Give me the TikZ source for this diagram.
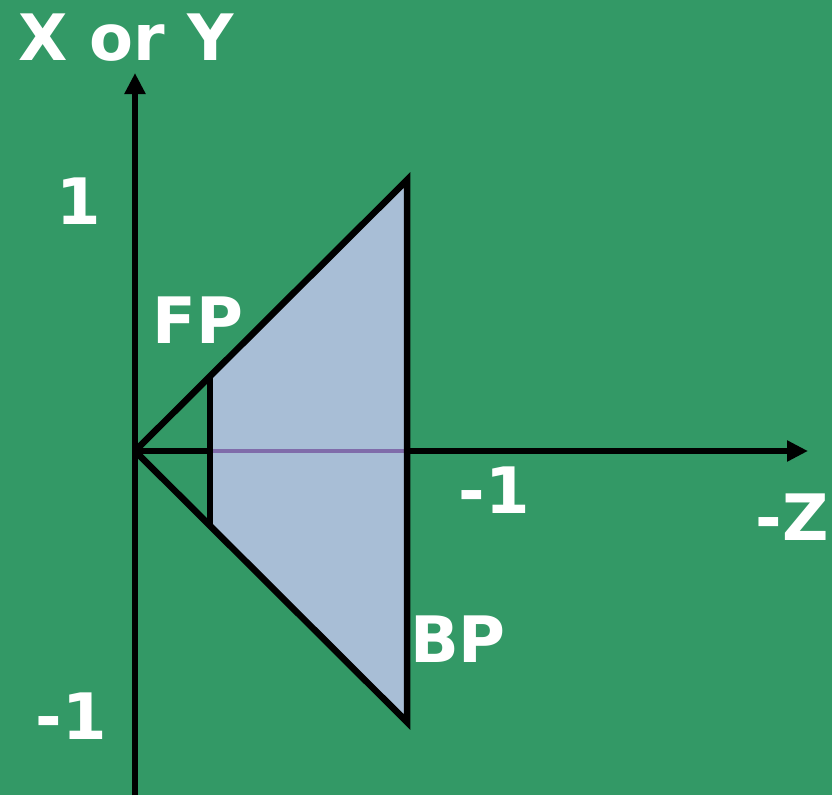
\documentclass[tikz,border=0pt]{standalone}
\usepackage{fontspec}
\setmainfont{DejaVu Sans}
\usetikzlibrary{arrows.meta}
\definecolor{bggreen}{RGB}{51,153,102}
\definecolor{frust}{RGB}{168,190,214}
\definecolor{axpurple}{RGB}{128,108,170}
\tikzset{
  lbl/.style={text=white,font=\fontsize{64}{64}\selectfont\bfseries,inner sep=0pt,anchor=base},
  axis/.style={line width=6.5pt,-{Triangle[length=21pt,width=20pt]}},
  edge/.style={line width=6.5pt}
}
\begin{document}
\begin{tikzpicture}[x=1pt,y=-1pt]
\fill[bggreen] (0,0) rectangle (832,795);
\useasboundingbox (0,0) rectangle (832,795);
\coordinate (O) at (135,451);
\coordinate (YB) at (135,795);
\coordinate (YT) at (135,73);
\coordinate (ZR) at (808,451);
\coordinate (TB) at (407,180);
\coordinate (BB) at (407,722);
\coordinate (TF) at (210,376);
\coordinate (BF) at (210,526);
\coordinate (FA) at (210,451);
\coordinate (BA) at (407,451);
% axes
\draw[axis] (YB) -- (YT);
\draw[axis] (O) -- (ZR);
% frustum fill
\fill[frust] (TF) -- (TB) -- (BB) -- (BF) -- cycle;
\draw[axpurple,line width=3.5pt] (FA) -- (BA);
% outline
\draw[edge,line join=miter] (O) -- (TB) -- (BB) -- (O);
\draw[edge] (TF) -- (BF);
% labels
\node[lbl] (xy) at (126,60) {X or Y};
\node[lbl] (one) at (79,224) {1};
\node[lbl] (fp) at (198,343) {FP};
\node[lbl] (m1z) at (494,513) {-1};
\node[lbl] (z) at (792,540) {-Z};
\node[lbl] (bp) at (458,662) {BP};
\node[lbl] (m1y) at (71,739) {-1};
\end{tikzpicture}
\end{document}
